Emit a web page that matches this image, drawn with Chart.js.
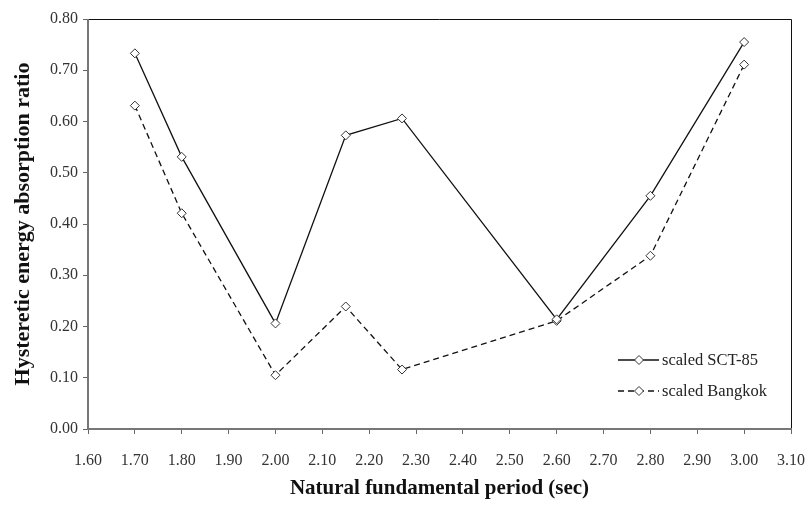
<!DOCTYPE html>
<html>
<head>
<meta charset="utf-8">
<script src="https://cdn.jsdelivr.net/npm/chart.js@4.4.1/dist/chart.umd.min.js"></script>
<style>
  html, body { margin: 0; padding: 0; background: #fff; }
  #wrap { width: 807px; height: 512px; }
</style>
</head>
<body>
<div id="wrap"><canvas id="chart"></canvas></div>
<script>
// natural period (sec) of each frame
const periods = [1.70, 1.80, 2.00, 2.15, 2.27, 2.60, 2.80, 3.00];
// hysteretic energy absorption ratio per ground motion
const sct85 = [0.733, 0.531, 0.206, 0.573, 0.606, 0.214, 0.455, 0.755];
const bangkok = [0.631, 0.421, 0.105, 0.239, 0.116, 0.211, 0.338, 0.711];
const seriesNames = ['scaled SCT-85', 'scaled Bangkok'];

const serif = '"Liberation Serif", "Times New Roman", serif';

function toPoints(ys) {
    return periods.map((x, i) => ({ x: x, y: ys[i] }));
}

// frame: thin black top/right, heavier grey left/bottom axes
const framePlugin = {
    id: 'frame',
    afterDraw(chart) {
        const { ctx, chartArea: a } = chart;
        ctx.save();
        ctx.strokeStyle = '#111';
        ctx.lineWidth = 1;
        ctx.beginPath();
        ctx.moveTo(a.left, a.top + 0.5);
        ctx.lineTo(a.right + 0.5, a.top + 0.5);
        ctx.lineTo(a.right + 0.5, a.bottom);
        ctx.stroke();
        ctx.strokeStyle = '#777';
        ctx.lineWidth = 2;
        ctx.beginPath();
        ctx.moveTo(a.left, a.top);
        ctx.lineTo(a.left, a.bottom);
        ctx.lineTo(a.right + 1, a.bottom);
        ctx.stroke();
        ctx.restore();
    }
};

// legend box in the lower right of the plot
const legendPlugin = {
    id: 'sideLegend',
    afterDraw(chart) {
        const { ctx } = chart;
        const x0 = 618, x1 = 659, mx = 639;
        const rows = [360, 391];
        ctx.save();
        chart.data.datasets.forEach((ds, i) => {
            const y = rows[i];
            ctx.strokeStyle = '#111';
            ctx.lineWidth = 1.3;
            ctx.setLineDash(ds.borderDash || []);
            ctx.beginPath();
            ctx.moveTo(x0, y);
            ctx.lineTo(x1, y);
            ctx.stroke();
            ctx.setLineDash([]);
            ctx.fillStyle = '#fff';
            ctx.strokeStyle = '#333';
            ctx.lineWidth = 1;
            ctx.beginPath();
            ctx.moveTo(mx, y - 4.5);
            ctx.lineTo(mx + 4.5, y);
            ctx.lineTo(mx, y + 4.5);
            ctx.lineTo(mx - 4.5, y);
            ctx.closePath();
            ctx.fill();
            ctx.stroke();
            ctx.fillStyle = '#222';
            ctx.font = '16.5px ' + serif;
            ctx.textBaseline = 'middle';
            ctx.fillText(seriesNames[i], 662, y + 1);
        });
        ctx.restore();
    }
};

const marker = {
    pointStyle: 'rectRot',
    pointRadius: 4.5,
    pointHoverRadius: 4.5,
    pointBackgroundColor: '#fff',
    pointBorderColor: '#333',
    pointBorderWidth: 1
};

new Chart(document.getElementById('chart'), {
    type: 'scatter',
    data: {
        datasets: [
            Object.assign({
                label: seriesNames[0],
                data: toPoints(sct85),
                showLine: true,
                borderColor: '#111',
                borderWidth: 1.3
            }, marker),
            Object.assign({
                label: seriesNames[1],
                data: toPoints(bangkok),
                showLine: true,
                borderColor: '#111',
                borderWidth: 1.3,
                borderDash: [6, 4]
            }, marker)
        ]
    },
    options: {
        responsive: true,
        maintainAspectRatio: false,
        animation: false,
        layout: { padding: { top: 19, right: 16, left: 0, bottom: 0 } },
        plugins: {
            legend: { display: false },
            tooltip: { enabled: false }
        },
        scales: {
            x: {
                type: 'linear',
                min: 1.6,
                max: 3.1,
                afterFit(scale) {
                    scale.height = 83;
                    scale.paddingLeft = 0;
                    scale.paddingRight = 0;
                },
                ticks: {
                    stepSize: 0.1,
                    padding: 17,
                    color: '#333',
                    font: { family: serif, size: 16 },
                    callback: v => v.toFixed(2)
                },
                grid: { drawOnChartArea: false, tickLength: 5, color: '#666' },
                border: { display: false },
                title: {
                    display: true,
                    text: 'Natural fundamental period (sec)',
                    color: '#111',
                    font: { family: serif, size: 21, weight: 'bold' },
                    padding: { top: 0, bottom: 11 }
                }
            },
            y: {
                min: 0,
                max: 0.8,
                afterFit(scale) {
                    scale.width = 88;
                    scale.paddingTop = 0;
                    scale.paddingBottom = 0;
                },
                ticks: {
                    stepSize: 0.1,
                    padding: 5,
                    color: '#333',
                    font: { family: serif, size: 16 },
                    callback: v => v.toFixed(2)
                },
                grid: { drawOnChartArea: false, tickLength: 5, color: '#666' },
                border: { display: false },
                title: {
                    display: true,
                    text: 'Hysteretic energy absorption ratio',
                    color: '#111',
                    font: { family: serif, size: 22, weight: 'bold' },
                    padding: { top: 10, bottom: 0 }
                }
            }
        }
    },
    plugins: [framePlugin, legendPlugin]
});
</script>
</body>
</html>
